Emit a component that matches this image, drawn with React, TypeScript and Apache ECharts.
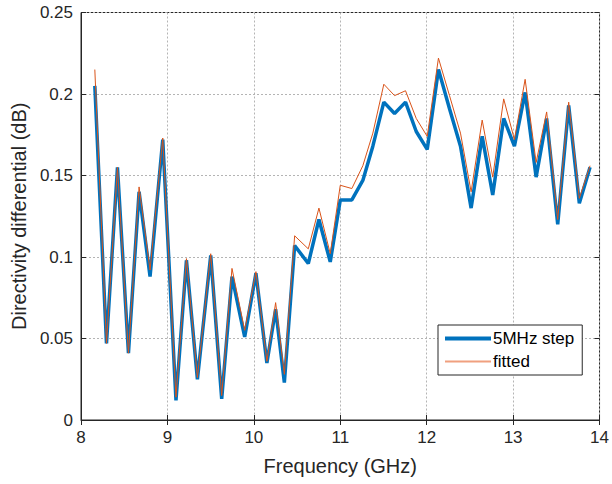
import React, { useEffect, useRef } from "react";
import * as echarts from "echarts";

// Frequency samples (GHz)
const freq = [
  8.16, 8.295, 8.422, 8.549, 8.672, 8.799, 8.946, 9.099, 9.22, 9.347,
  9.501, 9.628, 9.747, 9.894, 10.024, 10.151, 10.252, 10.353, 10.472, 10.63,
  10.753, 10.884, 11.0, 11.134, 11.261, 11.377, 11.504, 11.628, 11.755, 11.879,
  12.006, 12.136, 12.264, 12.391, 12.514, 12.642, 12.764, 12.891, 13.015, 13.139,
  13.266, 13.388, 13.516, 13.643, 13.766, 13.89,
];

// Measured directivity differential, 5 MHz step (dB)
const stepValues = [
  0.205, 0.047, 0.155, 0.041, 0.14, 0.088, 0.172, 0.012, 0.098, 0.025,
  0.101, 0.013, 0.088, 0.051, 0.09, 0.035, 0.068, 0.023, 0.107, 0.096,
  0.123, 0.097, 0.135, 0.135, 0.147, 0.168, 0.195, 0.188, 0.195, 0.177,
  0.166, 0.215, 0.191, 0.168, 0.13, 0.174, 0.138, 0.185, 0.168, 0.201,
  0.149, 0.185, 0.12, 0.193, 0.133, 0.155,
];

// Fitted directivity differential (dB)
const fittedValues = [
  0.215, 0.047, 0.155, 0.041, 0.143, 0.092, 0.173, 0.014, 0.099, 0.026,
  0.102, 0.015, 0.093, 0.055, 0.091, 0.036, 0.072, 0.028, 0.113, 0.105,
  0.13, 0.102, 0.144, 0.142, 0.156, 0.176, 0.206, 0.199, 0.202, 0.185,
  0.174, 0.222, 0.199, 0.176, 0.14, 0.184, 0.149, 0.197, 0.172, 0.209,
  0.158, 0.189, 0.123, 0.195, 0.136, 0.156,
];

const seriesNames = ["5MHz step", "fitted"];
const xTicks = { min: 8, max: 14, interval: 1 };
const yTicks = { min: 0, max: 0.25, interval: 0.05 };

const FONT = "'Liberation Sans', Arial, Helvetica, sans-serif";
const AXIS_COLOR = "#262626";
const BLUE = "#0072BD";
const ORANGE = "#D95319";

const gridLine = {
  show: true,
  lineStyle: { color: "#b4b4b4", type: [2, 2] as number[], width: 1 },
};

export default function App() {
  const ref = useRef<HTMLDivElement>(null);

  useEffect(() => {
    document.body.style.margin = "0";
    if (!ref.current) return;
    const chart = echarts.init(ref.current, undefined, { renderer: "svg" });

    const pairs = (ys: number[]) => freq.map((f, i) => [f, ys[i]]);

    const hiddenAxisCommon = {
      axisLine: { show: false },
      axisLabel: { show: false },
      splitLine: { show: false },
      axisTick: { show: true, inside: true, length: 5, lineStyle: { color: AXIS_COLOR } },
    };

    // legend icons: plain line segments, no marker
    const noMarker = { opacity: 0, borderWidth: 0, color: "transparent" };

    chart.setOption({
      animation: false,
      backgroundColor: "#ffffff",
      grid: {
        left: 81,
        right: 12,
        top: 12.5,
        bottom: 64,
        show: true,
        borderColor: AXIS_COLOR,
        borderWidth: 1,
        backgroundColor: "transparent",
      },
      xAxis: [
        {
          type: "value",
          ...xTicks,
          name: "Frequency (GHz)",
          nameLocation: "middle",
          nameGap: 36,
          nameTextStyle: { fontFamily: FONT, fontSize: 20, color: AXIS_COLOR },
          axisLine: { show: true, lineStyle: { color: AXIS_COLOR } },
          axisTick: { show: true, inside: true, length: 5, lineStyle: { color: AXIS_COLOR } },
          axisLabel: { fontFamily: FONT, fontSize: 17, color: AXIS_COLOR, margin: 9 },
          splitLine: gridLine,
        },
        { type: "value", position: "top", ...xTicks, ...hiddenAxisCommon },
      ],
      yAxis: [
        {
          type: "value",
          ...yTicks,
          name: "Directivity differential (dB)",
          nameLocation: "middle",
          nameGap: 52,
          nameTextStyle: { fontFamily: FONT, fontSize: 20, color: AXIS_COLOR },
          axisLine: { show: true, lineStyle: { color: AXIS_COLOR } },
          axisTick: { show: true, inside: true, length: 5, lineStyle: { color: AXIS_COLOR } },
          axisLabel: { fontFamily: FONT, fontSize: 17, color: AXIS_COLOR, margin: 8 },
          splitLine: gridLine,
        },
        { type: "value", position: "right", ...yTicks, ...hiddenAxisCommon },
      ],
      legend: {
        orient: "vertical",
        left: 438,
        top: 325,
        data: [
          { name: seriesNames[0], itemStyle: noMarker, lineStyle: { width: 4, color: BLUE } },
          { name: seriesNames[1], itemStyle: noMarker, lineStyle: { width: 2, color: "#f0a07f" } },
        ],
        itemWidth: 46,
        itemHeight: 10,
        itemGap: 6,
        padding: [5, 8, 5, 5],
        borderColor: AXIS_COLOR,
        borderWidth: 1,
        backgroundColor: "#ffffff",
        textStyle: { fontFamily: FONT, fontSize: 17, color: "#000000", padding: [0, 0, 0, -3] },
      },
      series: [
        {
          name: seriesNames[0],
          type: "line",
          data: pairs(stepValues),
          showSymbol: false,
          symbol: "none",
          lineStyle: { color: BLUE, width: 3.5 },
          itemStyle: { color: BLUE },
          z: 2,
        },
        {
          name: seriesNames[1],
          type: "line",
          data: pairs(fittedValues),
          showSymbol: false,
          symbol: "none",
          lineStyle: { color: ORANGE, width: 1 },
          itemStyle: { color: ORANGE },
          z: 3,
        },
      ],
    });

    return () => chart.dispose();
  }, []);

  return <div ref={ref} style={{ width: 612, height: 484 }} />;
}
